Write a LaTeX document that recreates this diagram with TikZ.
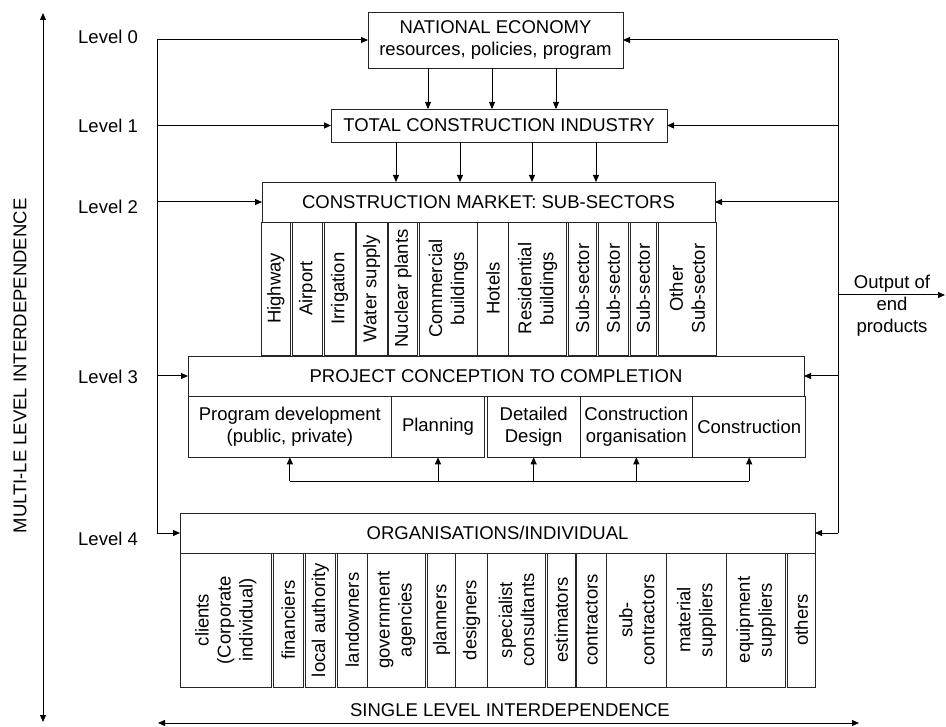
\documentclass[tikz,border=0pt]{standalone}
\usepackage{fontspec}
\setmainfont{Liberation Sans}
\usetikzlibrary{arrows.meta}

\tikzset{
  txt/.style={font=\fontsize{18.5}{22}\selectfont, align=center},
  frame/.style={txt, draw=black!85, line width=0.9pt, inner sep=0pt, outer sep=0pt},
  lbl/.style={txt, inner sep=0pt},
  link/.style={draw=black, line width=1pt},
  arr/.style={link, -{Triangle[length=7pt,width=6pt]}},
  darr/.style={link, {Triangle[length=7pt,width=6pt]}-{Triangle[length=7pt,width=6pt]}},
}

% box from corner (x1,y1) to (x2,y2), horizontal text
\newcommand\boxH[6]{%
  \pgfmathsetmacro\cellw{abs(#4-#2)}\pgfmathsetmacro\cellh{abs(#5-#3)}%
  \node[frame, minimum width=\cellw pt, minimum height=\cellh pt]
    (#1) at ({(#2+#4)/2},{(#3+#5)/2}) {#6};}
% same, text running upwards
\newcommand\boxV[6]{%
  \pgfmathsetmacro\cellw{abs(#4-#2)}\pgfmathsetmacro\cellh{abs(#5-#3)}%
  \node[frame, rotate=90, minimum width=\cellh pt, minimum height=\cellw pt]
    (#1) at ({(#2+#4)/2},{(#3+#5)/2}) {#6};}

\begin{document}
\begin{tikzpicture}[x=1pt, y=-1pt]
\useasboundingbox (0,0) rectangle (946,727);

% ---- level headers
\boxH{ne}{368}{12}{623}{68}{NATIONAL ECONOMY\\resources, policies, program}
\boxH{tci}{331}{109}{667}{142}{TOTAL CONSTRUCTION INDUSTRY}
\boxH{cm}{262}{182}{715}{222}{CONSTRUCTION MARKET: SUB-SECTORS}
\boxH{pc}{188}{356}{804}{396}{PROJECT CONCEPTION TO COMPLETION}
\boxH{org}{180}{513}{815}{553}{ORGANISATIONS/INDIVIDUAL}

% ---- market sub-sectors
\boxV{s1}{261}{222}{290.7}{355}{Highway}
\boxV{s2}{292.3}{222}{322.7}{355}{Airport}
\boxV{s3}{324.3}{222}{355}{355}{Irrigation}
\boxV{s4}{356.3}{222}{387}{355}{Water supply}
\boxV{s5}{388.3}{222}{417.7}{355}{Nuclear plants}
\boxV{s6}{419}{222}{477.7}{355}{Commercial\\buildings}
\boxV{s7}{477.7}{222}{508.3}{355}{Hotels}
\boxV{s8}{508.3}{222}{566.7}{355}{Residential\\buildings}
\boxV{s9}{568.3}{222}{596.7}{355}{Sub-sector}
\boxV{s10}{598.3}{222}{628.3}{355}{Sub-sector}
\boxV{s11}{630}{222}{656.7}{355}{Sub-sector}
\boxV{s12}{658.3}{222}{716}{355}{Other\\Sub-sector}

% ---- project stages
\boxH{pd}{188}{396}{391.7}{457.3}{Program development\\(public, private)}
\boxH{pl}{391.7}{396}{484.3}{457.3}{Planning}
\boxH{dd}{487.3}{396}{580}{457.3}{Detailed\\Design}
\boxH{co}{580}{396}{692.7}{457.3}{Construction\\organisation}
\boxH{cn}{692.7}{396}{805.7}{457.3}{Construction}

% ---- organisations
\boxV{o1}{180}{553}{271.7}{687}{clients\\(Corporate\\individual)}
\boxV{o2}{273.3}{553}{303.3}{687}{financiers}
\boxV{o3}{305}{553}{335.7}{687}{local authority}
\boxV{o4}{337.3}{553}{367.3}{687}{landowners}
\boxV{o5}{367.3}{553}{425.7}{687}{government\\agencies}
\boxV{o6}{427.3}{553}{455.7}{687}{planners}
\boxV{o7}{455.7}{553}{487.3}{687}{designers}
\boxV{o8}{487.3}{553}{545.7}{687}{specialist\\consultants}
\boxV{o9}{547.3}{553}{575}{687}{estimators}
\boxV{o10}{576.7}{553}{606.7}{687}{contractors}
\boxV{o11}{606.7}{553}{666.7}{687}{sub-\\contractors}
\boxV{o12}{666.7}{553}{726.7}{687}{material\\suppliers}
\boxV{o13}{726.7}{553}{785.7}{687}{equipment\\suppliers}
\boxV{o14}{787.3}{553}{815}{687}{others}

% ---- level labels
\node[lbl, anchor=west] (lv0) at (78,37) {Level 0};
\node[lbl, anchor=west] (lv1) at (78,126) {Level 1};
\node[lbl, anchor=west] (lv2) at (78,207) {Level 2};
\node[lbl, anchor=west] (lv3) at (78,377) {Level 3};
\node[lbl, anchor=west] (lv4) at (78,539) {Level 4};

\node[lbl, rotate=90] (multi) at (20,366) {MULTI-LE LEVEL INTERDEPENDENCE};
\node[lbl] (single) at (510,710) {SINGLE LEVEL INTERDEPENDENCE};
\node[lbl] (outtxt) at (892,306) {Output of\\end\\products};

% ---- helper coordinates
\coordinate (lbus) at (157,0);
\coordinate (rbus) at (838,0);
\coordinate (pbus) at (0,481);
\coordinate (vtop) at (43,13);
\coordinate (vbot) at (43,722);
\coordinate (hleft) at (158,723);
\coordinate (hright) at (859,723);
\coordinate (outA) at (838,295);
\coordinate (outB) at (945,295);

% ---- top-down flow
\foreach \x in {428,492,556}
  \draw[arr] (ne.south -| \x,0) -- (tci.north -| \x,0);
\foreach \x in {396,460,532,596}
  \draw[arr] (tci.south -| \x,0) -- (cm.north -| \x,0);

% ---- feedback buses
\draw[link] (lbus |- ne.west) -- (lbus |- org.west);
\draw[link] (rbus |- ne.east) -- (rbus |- org.east);
\foreach \n in {ne,tci,cm,pc,org} {
  \draw[arr] (lbus |- \n.west) -- (\n.west);
  \draw[arr] (rbus |- \n.east) -- (\n.east);
}

% ---- project stage links
\draw[link] (pd.south |- pbus) -- (cn.south |- pbus);
\foreach \n in {pd,pl,dd,co,cn}
  \draw[arr] (\n.south |- pbus) -- (\n.south);

% ---- output and interdependence axes
\draw[arr] (outA) -- (outB);
\draw[darr] (vtop) -- (vbot);
\draw[darr] (hleft) -- (hright);
\end{tikzpicture}
\end{document}
